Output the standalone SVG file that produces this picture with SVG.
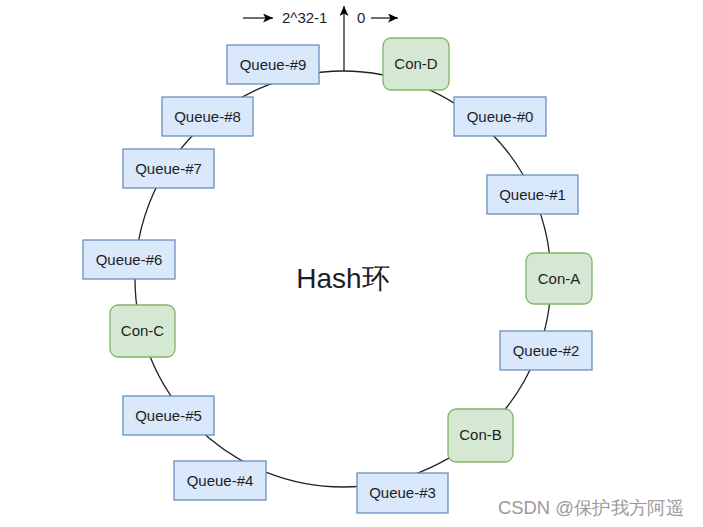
<svg xmlns="http://www.w3.org/2000/svg" width="703" height="527" viewBox="0 0 703 527">
<style>
.q rect{fill:#dae8fc;stroke:#6c8ebf;stroke-width:1.3}
.c rect{fill:#d5e8d4;stroke:#82b366;stroke-width:1.3}
text{font-family:"Liberation Sans",Arial,sans-serif;fill:#1e1e1e}
.lbl{font-size:15px;text-anchor:middle}
.ln{fill:none;stroke:#222;stroke-width:1.3}
</style>
<defs>
<marker id="ah" viewBox="0 0 10 9" refX="10" refY="4.5" markerWidth="10" markerHeight="9" markerUnits="userSpaceOnUse" orient="auto">
<path d="M0,0 L10,4.5 L0,9 L2.5,4.5 Z" fill="#000"/>
</marker>
</defs>
<rect width="703" height="527" fill="#fff"/>
<g id="connectors">
<circle class="ln" cx="343" cy="279" r="208"/>
<line class="ln" x1="344" y1="71" x2="344" y2="6" stroke="#000" marker-end="url(#ah)"/>
<line class="ln" x1="243" y1="18" x2="273" y2="18" stroke="#000" marker-end="url(#ah)"/>
<line class="ln" x1="371" y1="18" x2="398" y2="18" stroke="#000" marker-end="url(#ah)"/>
</g>
<g id="labels-top">
<text x="282" y="23" font-size="15">2^32-1</text>
<text x="357" y="23" font-size="15">0</text>
</g>
<g id="queue9" class="q"><rect x="227" y="45" width="92" height="39"/><text class="lbl" x="273" y="70">Queue-#9</text></g>
<g id="conD" class="c"><rect x="383" y="38" width="66" height="52" rx="8"/><text class="lbl" x="416" y="69">Con-D</text></g>
<g id="queue0" class="q"><rect x="454" y="97" width="92" height="39"/><text class="lbl" x="500" y="122">Queue-#0</text></g>
<g id="queue8" class="q"><rect x="162" y="97" width="91" height="39"/><text class="lbl" x="207.5" y="122">Queue-#8</text></g>
<g id="queue7" class="q"><rect x="123" y="149" width="91" height="39"/><text class="lbl" x="168.5" y="174">Queue-#7</text></g>
<g id="queue1" class="q"><rect x="487" y="175" width="91" height="39"/><text class="lbl" x="532.5" y="200">Queue-#1</text></g>
<g id="queue6" class="q"><rect x="83" y="240" width="92" height="39"/><text class="lbl" x="129" y="265">Queue-#6</text></g>
<g id="conA" class="c"><rect x="526" y="253" width="66" height="51" rx="8"/><text class="lbl" x="559" y="284">Con-A</text></g>
<g id="conC" class="c"><rect x="110" y="305" width="65" height="52" rx="8"/><text class="lbl" x="142.5" y="336">Con-C</text></g>
<g id="queue2" class="q"><rect x="500" y="331" width="92" height="39"/><text class="lbl" x="546" y="356">Queue-#2</text></g>
<g id="queue5" class="q"><rect x="123" y="396" width="91" height="39"/><text class="lbl" x="168.5" y="421">Queue-#5</text></g>
<g id="conB" class="c"><rect x="448" y="409" width="65" height="53" rx="8"/><text class="lbl" x="480.5" y="440">Con-B</text></g>
<g id="queue4" class="q"><rect x="174" y="461" width="92" height="39"/><text class="lbl" x="220" y="486">Queue-#4</text></g>
<g id="queue3" class="q"><rect x="357" y="473" width="91" height="40"/><text class="lbl" x="402.5" y="498">Queue-#3</text></g>
<g id="center">
<text x="343" y="288" font-size="28" text-anchor="middle" font-family="'Liberation Sans','Noto Sans CJK SC',sans-serif">Hash环</text>
</g>
<g id="watermark">
<text x="498" y="514" font-size="18" textLength="186" lengthAdjust="spacingAndGlyphs" font-family="'Liberation Sans','Noto Sans CJK SC',sans-serif" style="fill:#9a9a9a">CSDN @保护我方阿遥</text>
</g>
</svg>
